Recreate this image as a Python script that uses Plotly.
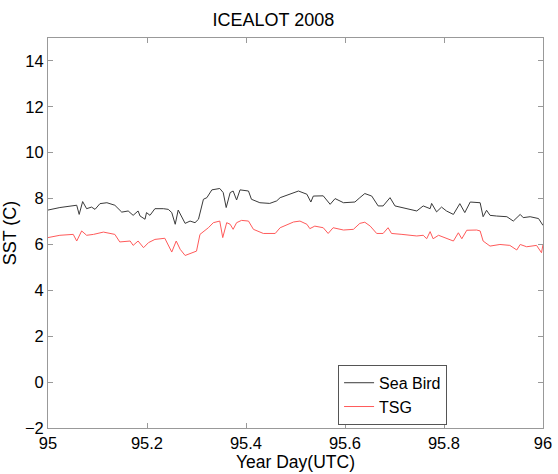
import plotly.graph_objects as go

sb_day = [95.000, 95.024, 95.058, 95.063, 95.070, 95.078, 95.088, 95.095, 95.105, 95.119,
          95.135, 95.149, 95.162, 95.172, 95.182, 95.186, 95.196, 95.199, 95.206, 95.216,
          95.233, 95.243, 95.250, 95.257, 95.263, 95.270, 95.277, 95.287, 95.297, 95.304,
          95.314, 95.321, 95.331, 95.347, 95.354, 95.360, 95.368, 95.374, 95.381, 95.388,
          95.405, 95.411, 95.428, 95.448, 95.462, 95.469, 95.496, 95.506, 95.523, 95.531,
          95.536, 95.556, 95.570, 95.580, 95.597, 95.620, 95.630, 95.640, 95.654, 95.667,
          95.677, 95.691, 95.701, 95.715, 95.731, 95.745, 95.758, 95.772, 95.775, 95.785,
          95.795, 95.805, 95.819, 95.832, 95.842, 95.853, 95.873, 95.879, 95.886, 95.893,
          95.906, 95.927, 95.940, 95.954, 95.960, 95.974, 95.991, 96.000]
sb_sst = [7.50, 7.61, 7.71, 7.31, 7.87, 7.56, 7.63, 7.53, 7.78, 7.82,
          7.71, 7.41, 7.46, 7.27, 7.46, 7.24, 7.10, 7.39, 7.27, 7.56,
          7.56, 7.53, 7.39, 6.88, 7.50, 7.24, 6.92, 7.02, 6.95, 7.10,
          7.97, 8.04, 8.38, 8.44, 8.26, 7.61, 8.26, 8.33, 7.94, 8.38,
          8.33, 7.97, 7.82, 7.79, 7.90, 8.04, 8.26, 8.33, 8.19, 7.85,
          8.11, 8.12, 7.75, 8.00, 7.82, 7.85, 8.04, 8.22, 8.11, 7.68,
          7.68, 8.04, 7.68, 7.61, 7.56, 7.46, 7.68, 7.56, 7.79, 7.42,
          7.63, 7.46, 7.31, 7.78, 7.39, 7.85, 7.82, 7.21, 7.49, 7.27,
          7.24, 7.21, 7.02, 7.31, 7.17, 7.21, 7.13, 6.83]

tsg_day = [95.000, 95.024, 95.051, 95.058, 95.068, 95.078, 95.092, 95.112, 95.135, 95.145,
           95.166, 95.172, 95.182, 95.193, 95.203, 95.216, 95.236, 95.243, 95.250, 95.259,
           95.267, 95.277, 95.290, 95.300, 95.307, 95.324, 95.334, 95.347, 95.353, 95.361,
           95.368, 95.374, 95.381, 95.391, 95.405, 95.415, 95.435, 95.459, 95.469, 95.496,
           95.509, 95.523, 95.529, 95.539, 95.556, 95.566, 95.576, 95.597, 95.617, 95.630,
           95.640, 95.651, 95.664, 95.677, 95.687, 95.694, 95.715, 95.735, 95.745, 95.758,
           95.765, 95.772, 95.778, 95.789, 95.802, 95.819, 95.829, 95.836, 95.846, 95.866,
           95.873, 95.879, 95.893, 95.913, 95.933, 95.947, 95.954, 95.967, 95.987, 95.997,
           96.000]
tsg_sst = [6.30, 6.40, 6.44, 6.15, 6.59, 6.40, 6.44, 6.54, 6.44, 6.11,
           6.15, 5.96, 6.15, 5.86, 6.08, 6.22, 6.27, 6.00, 5.67, 6.15,
           5.79, 5.52, 5.64, 5.71, 6.44, 6.73, 6.95, 7.02, 6.30, 6.95,
           6.88, 6.66, 6.95, 7.05, 7.02, 6.66, 6.48, 6.48, 6.73, 6.98,
           7.02, 6.88, 6.69, 6.80, 6.73, 6.48, 6.73, 6.63, 6.66, 6.92,
           6.97, 6.80, 6.48, 6.48, 6.73, 6.48, 6.44, 6.40, 6.37, 6.40,
           6.25, 6.56, 6.25, 6.40, 6.30, 6.15, 6.51, 6.25, 6.62, 6.63,
           6.59, 6.15, 5.93, 6.00, 5.96, 5.76, 6.00, 5.90, 5.96, 5.64,
           6.00]

x_ticks = [95, 95.2, 95.4, 95.6, 95.8, 96]
x_labels = ["95", "95.2", "95.4", "95.6", "95.8", "96"]
y_ticks = [-2, 0, 2, 4, 6, 8, 10, 12, 14]

FONT = "Arial, Liberation Sans, sans-serif"

fig = go.Figure()
fig.add_trace(go.Scatter(x=sb_day, y=sb_sst, mode="lines", name="Sea Bird",
                         line=dict(color="#3a3a3a", width=1)))
fig.add_trace(go.Scatter(x=tsg_day, y=tsg_sst, mode="lines", name="TSG",
                         line=dict(color="#ff5a5a", width=1)))

axis_common = dict(showline=True, linecolor="#999999", linewidth=1, mirror="ticks",
                   ticks="inside", ticklen=5, tickcolor="#999999", showgrid=False,
                   zeroline=False, automargin=False,
                   tickfont=dict(family=FONT, size=16.5, color="black"))

fig.update_layout(
    width=558, height=474,
    paper_bgcolor="white", plot_bgcolor="white",
    margin=dict(l=48, r=15, t=38, b=46, autoexpand=False),
    title=dict(text="ICEALOT 2008", x=0.49, xanchor="center", y=1 - 20 / 474, yanchor="middle",
               font=dict(family=FONT, size=18, color="black")),
    xaxis=dict(range=[95, 96], tickvals=x_ticks, ticktext=x_labels, **axis_common),
    yaxis=dict(range=[-2, 15], tickvals=y_ticks,
               title=dict(text="SST (C)", standoff=6,
                          font=dict(family=FONT, size=18, color="black")),
               **axis_common),
    showlegend=True,
    legend=dict(x=0.586, y=0.162, xanchor="left", yanchor="top",
                bgcolor="white", bordercolor="#555555", borderwidth=1,
                font=dict(family=FONT, size=16, color="black"),
                tracegroupgap=0, itemwidth=30),
    annotations=[dict(text="Year Day(UTC)", xref="paper", yref="paper", x=0.5, y=-34 / 390,
                      xanchor="center", yanchor="middle", showarrow=False,
                      font=dict(family=FONT, size=17.5, color="black"))],
)

fig.write_html("out.html", config={"displayModeBar": False},
               post_script="document.body.style.margin='0';document.body.style.overflow='hidden';")
